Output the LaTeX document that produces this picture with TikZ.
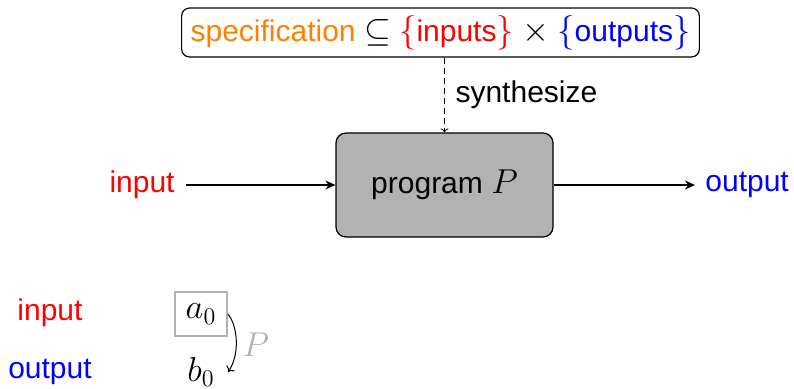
\documentclass[tikz,border=0pt]{standalone}
\usepackage{fontspec}
\setmainfont{Liberation Sans}
\DeclareMathSizes{15}{16}{12}{10}
\usetikzlibrary{arrows.meta}
\begin{document}
\begin{tikzpicture}[x=0.5pt,y=-0.5pt,
  font=\fontsize{15}{18}\selectfont,
  spec/.style={draw, rounded corners=4pt, line width=0.6pt, inner xsep=4.5pt,
    minimum height=24.5pt},
  progbox/.style={draw, fill=black!30, rounded corners=5pt, line width=0.6pt,
    minimum width=108.5pt, minimum height=52pt},
  flow/.style={-{Stealth[length=5pt,width=4.5pt]}, line width=0.8pt},
  synth/.style={-{To[length=2pt,width=4pt]}, dashed, line width=0.4pt, dash pattern=on 3pt off 2pt},
  valbox/.style={draw=black!30, line width=0.9pt, inner sep=3pt, minimum width=26pt, minimum height=22pt},
  step arrow/.style={-{To[length=2.5pt,width=5pt]}, line width=0.5pt}]
\useasboundingbox (0,0) rectangle (794,388);

% specification and synthesis
\node[spec] (spec) at (440.5,32.5)
  {\textcolor{orange}{specification} $\subseteq$
   \textcolor{red}{$\{$inputs$\}$} $\times$
   \textcolor{blue}{$\{$outputs$\}$}};
\node[progbox] (prog) at (444.5,185) {program $P$};
\draw[synth] (spec.south -| prog.north) -- (prog.north)
  node[midway, right, xshift=2pt] {synthesize};

% input/output of the program
\node[text=red, anchor=east, inner sep=5.5pt] (in) at (186,185) {input};
\node[text=blue, anchor=west, inner sep=5pt] (out) at (695,185) {output};
\draw[flow] (in.east) -- (prog.west);
\draw[flow] (prog.east) -- (out.west);

% example of a single run
\node[text=red] (exin) at (50,313) {input};
\node[text=blue] (exout) at (50,372) {output};
\node[valbox] (a0) at (201,314) {$a_0$};
\node (b0) at (201,372) {$b_0$};
\coordinate (b0tip) at (228,372);
\draw[step arrow] (a0.east) .. controls (238,326) and (240,355) .. (b0tip);
\node[text=black!30] (plabel) at (256,345) {$P$};
\end{tikzpicture}
\end{document}
